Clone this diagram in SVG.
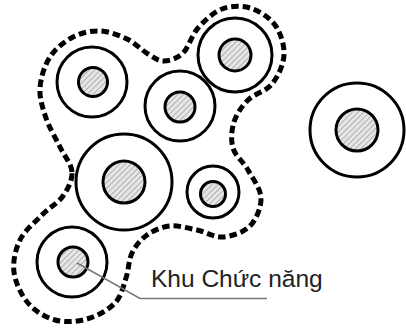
<svg xmlns="http://www.w3.org/2000/svg" width="406" height="330" viewBox="0 0 406 330">
<defs>
<pattern id="hatch" patternUnits="userSpaceOnUse" width="4" height="4" patternTransform="rotate(45)">
<rect width="4" height="4" fill="#e6e6e6"/>
<line x1="0" y1="0" x2="0" y2="4" stroke="#8c8c8c" stroke-width="1.2"/>
</pattern>
<style>
.outer{fill:none;stroke:#000;stroke-width:3}
.inner{fill:url(#hatch);stroke:#000;stroke-width:3}
.zone{fill:none;stroke:#000;stroke-width:5;stroke-dasharray:7.5 4}
.leader{fill:none;stroke:#777;stroke-width:1.5}
.label{font-family:"Liberation Sans",Arial,sans-serif;font-size:24.5px;fill:#222}
</style>
</defs>
<rect width="406" height="330" fill="#fff"/>
<g id="zone">
<path class="zone" d="M72,172 C71.5,163.83 64.33,156 60,147 C55.67,138 49.33,127.83 46,118 C42.67,108.17 39.33,98.170 40,88 C40.67,77.83 44.5,65.5 50,57 C55.5,48.5 64.67,41.33 73,37 C81.33,32.67 91,30.67 100,31 C109,31.33 119,35.17 127,39 C135,42.83 141.83,50.33 148,54 C154.17,57.67 158.17,61.17 164,61 C169.83,60.83 177.33,58.5 183,53 C188.67,47.5 191.5,35.33 198,28 C204.5,20.67 213.33,12.33 222,9 C230.67,5.67 241.17,5.33 250,8 C258.83,10.67 269.33,17.17 275,25 C280.67,32.83 284.5,45.17 284,55 C283.5,64.83 278,76.5 272,84 C266,91.5 254.33,93.67 248,100 C241.67,106.33 236.5,114 234,122 C231.5,130 230.67,140 233,148 C235.33,156 243.33,161.67 248,170 C252.67,178.33 260.67,188.67 261,198 C261.33,207.33 256.33,219.5 250,226 C243.67,232.5 231.83,236.33 223,237 C214.17,237.67 205.83,231.83 197,230 C188.17,228.17 178.33,225.17 170,226 C161.67,226.83 153.33,230.5 147,235 C140.67,239.5 135.5,245.83 132,253 C128.5,260.17 128.83,269.67 126,278 C123.17,286.33 121.5,296.17 115,303 C108.5,309.83 97,316.17 87,319 C77,321.83 64.83,322.67 55,320 C45.17,317.33 34.83,311 28,303 C21.17,295 15.33,282.5 14,272 C12.67,261.5 15.33,249.5 20,240 C24.67,230.5 34.83,222.33 42,215 C49.17,207.67 58,203.17 63,196 C68,188.83 72.5,180.17 72,172 Z"/>
</g>
<g id="nodeA"><circle class="outer" cx="92" cy="82" r="35"/><circle class="inner" cx="93" cy="82" r="14.5"/></g>
<g id="nodeB"><circle class="outer" cx="180" cy="106" r="35"/><circle class="inner" cx="180" cy="107" r="15"/></g>
<g id="nodeC"><circle class="outer" cx="235" cy="55" r="37"/><circle class="inner" cx="235" cy="55" r="16"/></g>
<g id="nodeD"><circle class="outer" cx="357" cy="130" r="47"/><circle class="inner" cx="357" cy="130" r="21"/></g>
<g id="nodeE"><circle class="outer" cx="124" cy="182" r="48"/><circle class="inner" cx="124" cy="182" r="21"/></g>
<g id="nodeF"><circle class="outer" cx="213" cy="192" r="26"/><circle class="inner" cx="213" cy="194" r="12.5"/></g>
<g id="nodeG"><circle class="outer" cx="72" cy="262" r="35"/><circle class="inner" cx="73" cy="262" r="15"/></g>
<g id="connectors">
<polyline class="leader" points="77,263 140,298.5 267,298.5"/>
</g>
<g id="label"><text class="label" x="151" y="287">Khu Chức năng</text></g>
</svg>
